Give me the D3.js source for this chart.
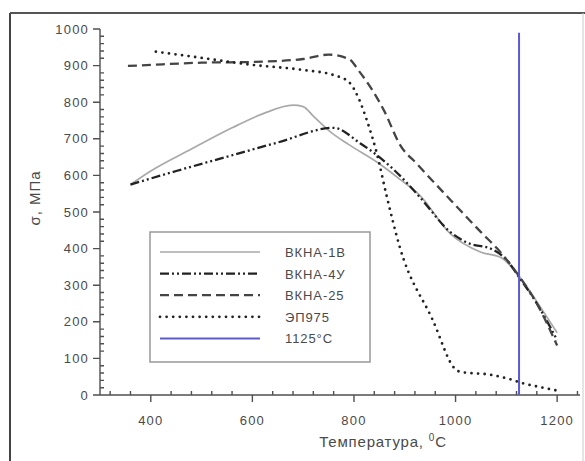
<!DOCTYPE html>
<html>
<head>
<meta charset="utf-8">
<script src="https://cdn.jsdelivr.net/npm/d3@7"></script>
<style>
  html, body { margin: 0; padding: 0; background: #fff; }
  svg { display: block; }
  text { font-family: "Liberation Sans", Arial, sans-serif; fill: #4a4a4a; }
</style>
</head>
<body>
<svg id="chart" width="585" height="461"></svg>
<script>
// ---- data ----
const xTicks = [400, 600, 800, 1000, 1200];
const yTicks = [0, 100, 200, 300, 400, 500, 600, 700, 800, 900, 1000];

const names = ["ВКНА-1В", "ВКНА-4У", "ВКНА-25", "ЭП975", "1125°C"];

const temps1B = [360, 400, 480, 560, 620, 680, 700, 720, 760, 790, 850, 890, 930, 990, 1050, 1090, 1125, 1160, 1200];
const vals1B  = [575, 612, 672, 730, 768, 792, 788, 762, 712, 684, 632, 590, 545, 440, 390, 375, 325, 255, 170];

const temps4U = [360, 450, 550, 650, 760, 812, 850, 890, 930, 990, 1020, 1075, 1100, 1125, 1160, 1200];
const vals4U  = [575, 612, 651, 690, 730, 688, 650, 600, 540, 445, 418, 396, 370, 322, 250, 150];

const temps25 = [355, 400, 500, 600, 700, 750, 790, 810, 860, 890, 925, 990, 1050, 1082, 1125, 1160, 1200];
const vals25  = [899, 902, 908, 910, 918, 930, 918, 885, 775, 685, 630, 533, 445, 400, 325, 250, 135];

const tempsEP = [410, 490, 600, 700, 760, 790, 810, 825, 845, 865, 890, 955, 1000, 1010, 1070, 1110, 1130, 1165, 1200];
const valsEP  = [938, 923, 902, 888, 874, 855, 808, 752, 660, 540, 405, 205, 70, 63, 55, 42, 33, 22, 12];

const vlineT = 1125;
const vlineRange = [0, 990];

// ---- drawing ----
const svg = d3.select("#chart");
const x = d3.scaleLinear().domain([300, 1245]).range([100, 580]);
const y = d3.scaleLinear().domain([0, 1000]).range([395, 29]);

// frame
svg.append("line").attr("x1", 10).attr("x2", 10).attr("y1", 13).attr("y2", 461).attr("stroke", "#444").attr("stroke-width", 2);
svg.append("line").attr("x1", 10).attr("x2", 585).attr("y1", 13).attr("y2", 13).attr("stroke", "#555").attr("stroke-width", 2);
svg.append("line").attr("x1", 583).attr("x2", 583).attr("y1", 13).attr("y2", 461).attr("stroke", "#ccc").attr("stroke-width", 1);

// axes
const yMinor = d3.range(0, 1001, 20).filter(v => v % 100 !== 0);
const xMinor = d3.range(320, 1245, 40).filter(v => v % 200 !== 0);
const axisColor = "#505050";

const x0 = x(300), y0 = y(0);

// axis lines and tick marks
svg.append("path").attr("fill", "none").attr("stroke", axisColor).attr("stroke-width", 1.4)
  .attr("d", `M${x0},${y(1000)}V${y0}H${x(1245)}`
    + yTicks.map(d => `M${x0 - 7},${y(d)}H${x0}`).join("")
    + yMinor.map(d => `M${x0},${y(d)}H${x0 + 4}`).join("")
    + xTicks.map(d => `M${x(d)},${y0}V${y0 + 7}`).join("")
    + xMinor.map(d => `M${x(d)},${y0}V${y0 - 4}`).join(""));

// tick labels
svg.append("g").selectAll("text").data(yTicks).join("text")
  .attr("x", x0 - 11).attr("y", d => y(d) + 4.5).attr("text-anchor", "end")
  .style("font-size", "13px").attr("letter-spacing", "1.2").text(d => d);
svg.append("g").selectAll("text").data(xTicks).join("text")
  .attr("x", d => x(d)).attr("y", y0 + 30).attr("text-anchor", "middle")
  .style("font-size", "13px").attr("letter-spacing", "1.2").text(d => d);

// axis titles
svg.append("text").attr("transform", `translate(40,198) rotate(-90)`)
  .attr("text-anchor", "middle").style("font-size", "15px").attr("letter-spacing", "1").text("σ, МПа");
const xt = svg.append("text").attr("x", 383).attr("y", 447).attr("text-anchor", "middle")
  .style("font-size", "15px").attr("letter-spacing", "0.8");
xt.append("tspan").text("Температура, ");
xt.append("tspan").attr("dy", -6).style("font-size", "10px").text("0");
xt.append("tspan").attr("dy", 6).text("C");

// series
const styles = [
  { stroke: "#a9a9a9", width: 1.7, dash: null, cap: "butt" },
  { stroke: "#222", width: 2.3, dash: "9,3,2,3,2,3", cap: "butt" },
  { stroke: "#444", width: 2.3, dash: "9,5", cap: "butt" },
  { stroke: "#222", width: 2.8, dash: "0,6.6", cap: "round" },
  { stroke: "#5a5ad2", width: 2, dash: null, cap: "butt" }
];
const seriesData = [
  d3.zip(temps1B, vals1B),
  d3.zip(temps4U, vals4U),
  d3.zip(temps25, vals25),
  d3.zip(tempsEP, valsEP)
];
const line = d3.line().x(d => x(d[0])).y(d => y(d[1])).curve(d3.curveMonotoneX);

seriesData.forEach((data, i) => {
  const s = styles[i];
  svg.append("path").datum(data).attr("d", line)
    .attr("fill", "none").attr("stroke", s.stroke).attr("stroke-width", s.width)
    .attr("stroke-dasharray", s.dash).attr("stroke-linecap", s.cap).attr("stroke-linejoin", "round");
});

// vertical line
svg.append("line").attr("x1", x(vlineT)).attr("x2", x(vlineT))
  .attr("y1", y(vlineRange[0])).attr("y2", y(vlineRange[1]))
  .attr("stroke", styles[4].stroke).attr("stroke-width", styles[4].width);

// legend
const lg = svg.append("g");
lg.append("rect").attr("x", 150).attr("y", 232).attr("width", 220).attr("height", 130)
  .attr("fill", "#fff").attr("stroke", "#999").attr("stroke-width", 1.5);
names.forEach((n, i) => {
  const yy = 252 + i * 21.6;
  const s = styles[i];
  lg.append("line").attr("x1", 160).attr("x2", 260).attr("y1", yy).attr("y2", yy)
    .attr("stroke", s.stroke).attr("stroke-width", s.width)
    .attr("stroke-dasharray", s.dash).attr("stroke-linecap", s.cap);
  lg.append("text").attr("x", 285).attr("y", yy + 5).style("font-size", "13px")
    .attr("letter-spacing", "0.9").text(n);
});
</script>
</body>
</html>
